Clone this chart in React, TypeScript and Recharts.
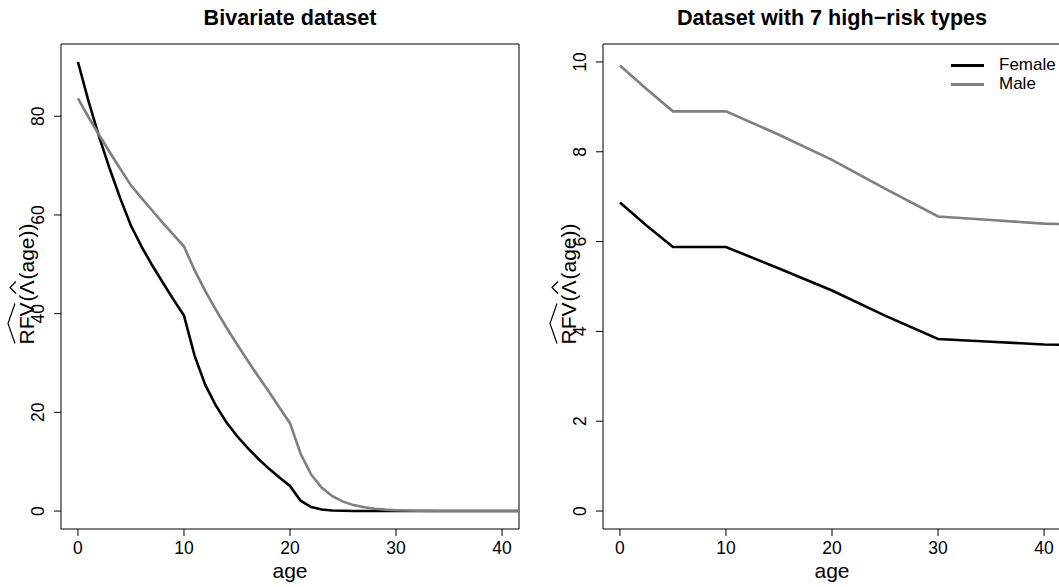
import React from "react";
import { LineChart, Line, XAxis, YAxis, ReferenceArea } from "recharts";

const FONT = '"Liberation Sans", Arial, Helvetica, sans-serif';

// left panel: bivariate dataset
const bivariateAges = [
  0, 1, 2, 3, 4, 5, 6, 7, 8, 9, 10, 11, 12, 13, 14, 15, 16, 17, 18, 19, 20, 21,
  22, 23, 24, 25, 26, 27, 28, 29, 30, 31, 32, 33, 34, 35, 36, 37, 38, 39, 40, 41, 42,
];
const bivariateFemale = [
  91.0, 83.0, 75.8, 69.3, 63.3, 57.8, 53.6, 49.8, 46.3, 42.9, 39.6, 31.5, 25.6,
  21.4, 18.0, 15.2, 12.8, 10.6, 8.6, 6.8, 5.1, 2.1, 0.8, 0.3, 0.12, 0.05, 0.02,
  0, 0, 0, 0, 0, 0, 0, 0, 0, 0, 0, 0, 0, 0, 0, 0,
];
const bivariateMale = [
  83.6, 79.8, 76.2, 72.7, 69.3, 66.0, 63.4, 60.9, 58.4, 56.0, 53.6, 48.8, 44.6,
  40.8, 37.2, 33.8, 30.5, 27.3, 24.2, 21.0, 17.8, 11.6, 7.4, 4.7, 3.0, 1.9, 1.2,
  0.75, 0.45, 0.28, 0.17, 0.1, 0.06, 0.03, 0.02, 0.01, 0, 0, 0, 0, 0, 0, 0,
];

// right panel: 7 high-risk types
const highRiskAges = [0, 2.5, 5, 10, 15, 20, 25, 30, 35, 40, 42];
const highRiskFemale = [6.87, 6.36, 5.88, 5.88, 5.4, 4.91, 4.35, 3.83, 3.77, 3.71, 3.7];
const highRiskMale = [9.92, 9.4, 8.9, 8.9, 8.38, 7.82, 7.18, 6.56, 6.48, 6.4, 6.39];

const ageTicks = [0, 10, 20, 30, 40];
const bivariateTicks = [0, 20, 40, 60, 80];
const highRiskTicks = [0, 2, 4, 6, 8, 10];

const seriesNames = ["Female", "Male"];
const seriesColors = ["#000000", "#7f7f7f"];

const X_DOMAIN: [number, number] = [-1.6, 41.6];
const TICK_FONT = 17.5;
const LAB_FONT = 21;

const toRows = (ages: number[], female: number[], male: number[]) =>
  ages.map((age, i) => ({ age, Female: female[i], Male: male[i] }));

const XTick = (props: any) => {
  const { x, y, payload } = props;
  return (
    <text x={x} y={y} dy="0.71em" textAnchor="middle" fontSize={TICK_FONT} fontFamily={FONT} fill="#000">
      {payload.value}
    </text>
  );
};

const YTick = (props: any) => {
  const { x, y, payload } = props;
  return (
    <text
      x={x}
      y={y}
      transform={`rotate(-90 ${x} ${y})`}
      textAnchor="middle"
      fontSize={TICK_FONT}
      fontFamily={FONT}
      fill="#000"
    >
      {payload.value}
    </text>
  );
};

const YTitle = (props: any) => {
  const vb = props.viewBox;
  const bx = vb.x + vb.width - 27;
  const cy = vb.y + vb.height / 2 - 2;
  return (
    <g transform={`translate(${bx} ${cy}) rotate(-90)`} fontFamily={FONT} fontSize={LAB_FONT} fill="#000">
      <text x={-60} y={0}>RFV</text>
      <text x={-17} y={0}>(</text>
      <text x={-10} y={0}>Λ</text>
      <text x={5} y={0}>(age))</text>
      <path d="M -59 -19 L -39 -26 L -19 -19" stroke="#000" strokeWidth={1.2} fill="none" />
      <path d="M -9 -18 L -3 -24 L 3 -18" stroke="#000" strokeWidth={1.2} fill="none" />
    </g>
  );
};

const AgeTitle = (props: any) => {
  const vb = props.viewBox;
  return (
    <text x={vb.x + vb.width / 2} y={vb.y + 49} textAnchor="middle" fontSize={LAB_FONT} fontFamily={FONT} fill="#000">
      age
    </text>
  );
};

const LegendBox = ({ left, top }: { left: number; top: number }) => (
  <div style={{ position: "absolute", left, top, fontFamily: FONT, fontSize: 17, color: "#000" }}>
    {seriesNames.map((name, i) => (
      <div key={name} style={{ display: "flex", alignItems: "center", height: 19, whiteSpace: "nowrap" }}>
        <svg width={33} height={19} style={{ marginRight: 15 }}>
          <line x1={0} y1={9.5} x2={33} y2={9.5} stroke={seriesColors[i]} strokeWidth={3} />
        </svg>
        <span>{name}</span>
      </div>
    ))}
  </div>
);

type PanelProps = {
  title: string;
  data: any[];
  yDomain: [number, number];
  yTicks: number[];
  left: number;
  width: number;
  yAxisWidth: number;
  marginRight: number;
  legend?: boolean;
};

const Panel = ({ title, data, yDomain, yTicks, left, width, yAxisWidth, marginRight, legend }: PanelProps) => {
  const plotCenter = yAxisWidth + (width - yAxisWidth - marginRight) / 2;
  return (
    <div style={{ position: "absolute", left, top: 0, width, height: 587 }}>
      <div
        style={{
          position: "absolute",
          left: plotCenter - 300,
          width: 600,
          top: 6.7,
          textAlign: "center",
          fontFamily: FONT,
          fontWeight: "bold",
          fontSize: 21.6,
          lineHeight: "21.6px",
          whiteSpace: "nowrap",
        }}
      >
        {title}
      </div>
      <LineChart width={width} height={587} data={data} margin={{ top: 44, right: marginRight, bottom: 0, left: 0 }}>
        <XAxis
          dataKey="age"
          type="number"
          domain={X_DOMAIN}
          allowDataOverflow
          ticks={ageTicks}
          height={58}
          axisLine={false}
          tickSize={7}
          tickMargin={6}
          tickLine={{ stroke: "#000" }}
          tick={<XTick />}
          label={{ content: <AgeTitle /> }}
        />
        <YAxis
          type="number"
          domain={yDomain}
          allowDataOverflow
          ticks={yTicks}
          width={yAxisWidth}
          axisLine={false}
          tickSize={7}
          tickMargin={10}
          tickLine={{ stroke: "#000" }}
          tick={<YTick />}
          label={{ content: <YTitle /> }}
        />
        <ReferenceArea
          x1={X_DOMAIN[0]}
          x2={X_DOMAIN[1]}
          y1={yDomain[0]}
          y2={yDomain[1]}
          fill="none"
          stroke="#000"
          strokeWidth={1}
          ifOverflow="visible"
        />
        {seriesNames.map((name, i) => (
          <Line
            key={name}
            dataKey={name}
            type="linear"
            stroke={seriesColors[i]}
            strokeWidth={2.6}
            dot={false}
            activeDot={false}
            isAnimationActive={false}
          />
        ))}
      </LineChart>
      {legend && <LegendBox left={421} top={55.5} />}
    </div>
  );
};

export default function App() {
  return (
    <div
      style={{
        position: "absolute",
        left: 0,
        top: 0,
        width: 1059,
        height: 587,
        overflow: "hidden",
        background: "#fff",
      }}
    >
      <Panel
        title="Bivariate dataset"
        data={toRows(bivariateAges, bivariateFemale, bivariateMale)}
        yDomain={[-3.64, 94.64]}
        yTicks={bivariateTicks}
        left={0}
        width={530}
        yAxisWidth={61}
        marginRight={11}
      />
      <Panel
        title="Dataset with 7 high−risk types"
        data={toRows(highRiskAges, highRiskFemale, highRiskMale)}
        yDomain={[-0.4, 10.4]}
        yTicks={highRiskTicks}
        left={530}
        width={545}
        yAxisWidth={73}
        marginRight={14}
        legend
      />
    </div>
  );
}
